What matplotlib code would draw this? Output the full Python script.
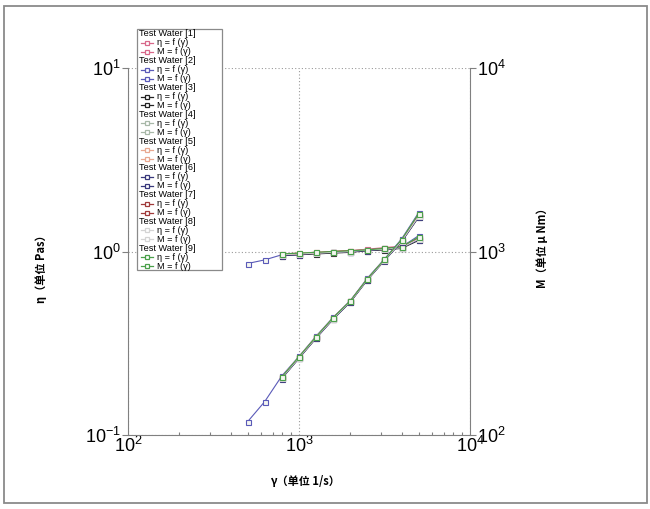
import matplotlib
matplotlib.use('Agg')
import matplotlib.pyplot as plt
from matplotlib.lines import Line2D
from matplotlib.patches import Rectangle
from matplotlib.ticker import LogLocator, NullFormatter, NullLocator

plt.rcParams['font.family'] = ['Liberation Sans', 'DejaVu Sans']
plt.rcParams['mathtext.fontset'] = 'custom'
plt.rcParams['mathtext.rm'] = 'Liberation Sans'
plt.rcParams['mathtext.it'] = 'Liberation Sans:italic'
plt.rcParams['mathtext.bf'] = 'Liberation Sans:bold'

# shear rate (1/s); only water [2] was measured from 500 upward
shear_long = [500, 630, 794, 1000, 1260, 1585, 1995, 2512, 3162, 3981, 5012]
shear = [794, 1000, 1260, 1585, 1995, 2512, 3162, 3981, 5012]

names = ['Test Water [1]', 'Test Water [2]', 'Test Water [3]', 'Test Water [4]',
         'Test Water [5]', 'Test Water [6]', 'Test Water [7]', 'Test Water [8]',
         'Test Water [9]']
colors = ['#d8688a', '#5a5ab8', '#222222', '#a8b8a8', '#e8a890',
          '#38387c', '#a03a3a', '#d4d4d4', '#4aa04a']

# viscosity eta (Pas)
eta_w1 = [0.97, 0.98, 0.99, 1.00, 1.01, 1.03, 1.05, 1.07, 1.18]
eta_w2 = [0.86, 0.90, 0.96, 0.97, 0.98, 0.99, 1.00, 1.02, 1.04, 1.06, 1.22]
eta_w3 = [0.95, 0.96, 0.97, 0.98, 0.99, 1.01, 1.02, 1.04, 1.15]
eta_w4 = [0.96, 0.97, 0.98, 0.99, 1.00, 1.02, 1.03, 1.05, 1.17]
eta_w5 = [0.97, 0.98, 0.99, 1.00, 1.01, 1.02, 1.04, 1.06, 1.19]
eta_w6 = [0.95, 0.96, 0.98, 0.99, 1.00, 1.01, 1.03, 1.05, 1.16]
eta_w7 = [0.96, 0.97, 0.98, 1.00, 1.01, 1.02, 1.04, 1.06, 1.18]
eta_w8 = [0.96, 0.97, 0.98, 0.99, 1.00, 1.02, 1.03, 1.05, 1.17]
eta_w9 = [0.97, 0.98, 0.99, 1.00, 1.01, 1.02, 1.04, 1.06, 1.20]

# torque M (uNm)
m_w1 = [206, 266, 342, 434, 536, 708, 902, 1150, 1580]
m_w2 = [118, 152, 210, 268, 346, 438, 540, 716, 910, 1170, 1630]
m_w3 = [204, 262, 338, 428, 530, 700, 895, 1130, 1540]
m_w4 = [205, 264, 340, 432, 534, 705, 900, 1140, 1560]
m_w5 = [207, 267, 344, 436, 538, 710, 905, 1155, 1600]
m_w6 = [203, 262, 337, 428, 530, 700, 893, 1130, 1545]
m_w7 = [206, 265, 341, 434, 536, 707, 902, 1148, 1575]
m_w8 = [205, 264, 340, 431, 534, 704, 899, 1140, 1560]
m_w9 = [207, 267, 343, 436, 538, 710, 906, 1160, 1610]

eta_all = [eta_w1, eta_w2, eta_w3, eta_w4, eta_w5, eta_w6, eta_w7, eta_w8, eta_w9]
m_all = [m_w1, m_w2, m_w3, m_w4, m_w5, m_w6, m_w7, m_w8, m_w9]

W, H = 650, 509
fig = plt.figure(figsize=(6.5, 5.09), dpi=100)
ax = fig.add_axes([128/W, 1-435/H, 342/W, 367/H])
ax2 = ax.twinx()

for i in range(9):
    xs = shear_long if len(eta_all[i]) == len(shear_long) else shear
    ax.plot(xs, eta_all[i], '-s', color=colors[i], lw=0.8, ms=3.6,
            mfc='#f4f6f0', mec=colors[i], mew=0.8)
    xs = shear_long if len(m_all[i]) == len(shear_long) else shear
    ax2.plot(xs, m_all[i], '-s', color=colors[i], lw=0.8, ms=3.6,
             mfc='#f4f6f0', mec=colors[i], mew=0.8)

ax.set_xscale('log')
ax.set_yscale('log')
ax.set_xlim(100, 10000)
ax.set_ylim(0.1, 10)
ax2.set_yscale('log')
ax2.set_ylim(100, 10000)

spcol = '#808080'
for a in (ax, ax2):
    a.spines['top'].set_visible(False)
    for s in a.spines.values():
        s.set_color(spcol)
ax.spines['right'].set_visible(False)
ax2.spines['left'].set_visible(False)
ax2.spines['bottom'].set_visible(False)

ax.grid(True, which='major', linestyle=(0, (1, 2)), color='#9a9a9a', lw=0.8)
ax.yaxis.set_minor_locator(NullLocator())
ax2.yaxis.set_minor_locator(NullLocator())
ax.xaxis.set_minor_locator(LogLocator(base=10, subs=range(2, 10)))
ax.xaxis.set_minor_formatter(NullFormatter())

ax.tick_params(axis='y', which='major', direction='out', length=4, width=0.8,
               color=spcol, labelsize=13, pad=1)
ax.tick_params(axis='x', which='major', direction='in', length=0, labelsize=13, pad=1)
ax.tick_params(axis='x', which='minor', direction='in', length=2.5, width=0.8, color=spcol)
ax2.tick_params(axis='y', which='major', direction='out', length=4, width=0.8,
                color=spcol, labelsize=13, pad=1)

lab_font = ['Noto Sans CJK SC', 'DejaVu Sans']
ax.set_xlabel('γ（单位 1/s）', family=lab_font, fontsize=8, fontweight='bold')
ax.xaxis.set_label_coords(0.517, -0.11)
ax.set_ylabel('η（单位 Pas）', family=lab_font, fontsize=8, fontweight='bold')
ax.yaxis.set_label_coords(-0.234, 0.46)
ax2.set_ylabel('M（单位 μ Nm）', family=lab_font, fontsize=8, fontweight='bold')
ax2.yaxis.set_label_coords(1.193, 0.518)

# outer frame
fig.add_artist(Rectangle((4/W, 1-503/H), 643/W, 497/H, transform=fig.transFigure,
                         fill=False, ec='#8a8a8a', lw=1.3))

# legend drawn by hand (headers sit flush left, entries carry a line+marker)
fig.add_artist(Rectangle((137/W, 1-270/H), 85/W, 241/H, transform=fig.transFigure,
                         fc='white', ec='#8a8a8a', lw=0.9, zorder=5))
row = 0
y0, dy = 34, 8.93
for i in range(9):
    y = 1 - (y0 + dy*row)/H
    fig.text(139/W, y, names[i], fontsize=6.6, va='center', zorder=6)
    row += 1
    for lab in ['η = f (γ\u0307)', 'M = f (γ\u0307)']:
        y = 1 - (y0 + dy*row)/H
        fig.add_artist(Line2D([141/W, 153/W], [y, y], transform=fig.transFigure,
                              color=colors[i], lw=0.9, zorder=6))
        fig.add_artist(Line2D([147/W], [y], transform=fig.transFigure, marker='s',
                              ms=3.2, mfc='white', mec=colors[i], mew=0.9, zorder=7))
        fig.text(157/W, y, lab, fontsize=6.6, va='center', zorder=6)
        row += 1

fig.savefig('out.png', dpi=100)
